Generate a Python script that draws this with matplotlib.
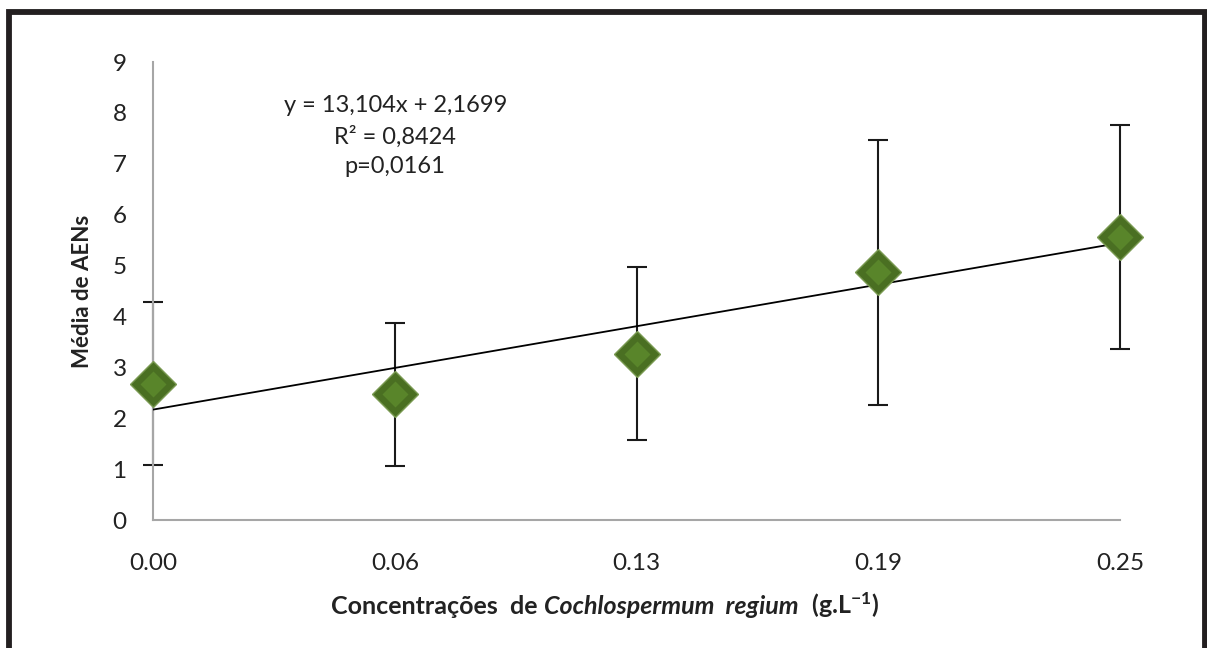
import matplotlib.pyplot as plt
from matplotlib.patches import Rectangle
import numpy as np

# dados
concentracoes = [0.0, 0.0625, 0.125, 0.1875, 0.25]
rotulos_x = ['0.00', '0.06', '0.13', '0.19', '0.25']
media_aens = [2.68, 2.47, 3.27, 4.87, 5.57]
erro_aens = [1.6, 1.4, 1.7, 2.6, 2.2]
inclinacao = 13.104
intercepto = 2.1699
texto_eq = 'y = 13,104x + 2,1699\nR² = 0,8424\np=0,0161'

plt.rcParams['font.family'] = ['Lato', 'DejaVu Sans']
plt.rcParams['mathtext.fontset'] = 'custom'
plt.rcParams['mathtext.rm'] = 'Lato:bold'
plt.rcParams['mathtext.it'] = 'Lato:bold:italic'

fig = plt.figure(figsize=(12.07, 6.48), dpi=100)
ax = fig.add_axes([0.1268, 0.1975, 0.8012, 0.7068])

# moldura externa (sem linha inferior)
fig.add_artist(Rectangle((0.0071, -0.05), 0.9915, 1.031, transform=fig.transFigure,
                         fill=False, edgecolor='#231f20', linewidth=4.2))

# linha de tendencia
xs = np.array([concentracoes[0], concentracoes[-1]])
ax.plot(xs, inclinacao * xs + intercepto, color='black', linewidth=1.3, zorder=3)

# barras de erro
ax.errorbar(concentracoes, media_aens, yerr=erro_aens, fmt='none', ecolor='#1a1a1a',
            elinewidth=1.5, capsize=7, capthick=1.5, zorder=2, clip_on=False)

# marcadores em losango
ax.plot(concentracoes, media_aens, linestyle='none', marker='D', markersize=23,
        markerfacecolor='#4a6f22', markeredgecolor='#7a9a52', markeredgewidth=1.0,
        zorder=4, clip_on=False)
ax.plot(concentracoes, media_aens, linestyle='none', marker='D', markersize=13,
        markerfacecolor='#5c8a2c', markeredgecolor='none', alpha=0.85,
        zorder=5, clip_on=False)

ax.set_xlim(0, 0.25)
ax.set_ylim(0, 9)
ax.set_xticks(concentracoes)
ax.set_xticklabels(rotulos_x)
ax.set_yticks(range(0, 10))
ax.tick_params(length=0, labelsize=17.5, colors='#222222')
ax.tick_params(axis='x', pad=24)
ax.tick_params(axis='y', pad=19)
for s in ['top', 'right']:
    ax.spines[s].set_visible(False)
for s in ['left', 'bottom']:
    ax.spines[s].set_color('#a6a6a6')
    ax.spines[s].set_linewidth(1.5)

ax.text(0.0626, 7.54, texto_eq, ha='center', va='center', fontsize=17,
        color='#222222', linespacing=1.5)

ax.set_ylabel('Média de AENs', fontsize=16, fontweight='bold', color='#222222', labelpad=14)

# rotulo do eixo x em partes (negrito + italico)
fig.canvas.draw()
r = fig.canvas.get_renderer()
y_lab = 1 - 614 / 648
partes = [('Concentrações  de ', 'normal'), ('Cochlospermum  regium', 'italic'),
          ('  (g.L$^{\\mathit{-1}}$)', 'normal')]
objs = []
for txt, estilo in partes:
    t = fig.text(0, y_lab, txt, fontsize=18, fontweight='bold', style=estilo,
                 color='#222222', va='baseline', ha='left')
    objs.append(t)
larguras = [t.get_window_extent(r).width / fig.bbox.width for t in objs]
x0 = 605 / 1207 - sum(larguras) / 2
for t, w in zip(objs, larguras):
    t.set_x(x0)
    x0 += w

fig.savefig('out.png', dpi=100)
